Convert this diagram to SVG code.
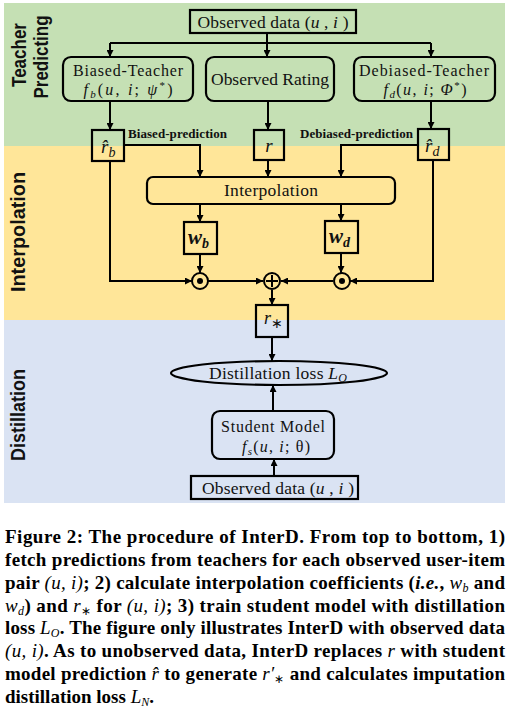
<svg xmlns="http://www.w3.org/2000/svg" width="514" height="710" viewBox="0 0 514 710">
<defs>
<marker id="ah" markerWidth="7" markerHeight="7" refX="7" refY="3.5" orient="auto" markerUnits="userSpaceOnUse">
<path d="M0,0 L7,3.5 L0,7 z" fill="#000"/>
</marker>
<style>
.box{fill:none;stroke:#000;stroke-width:2.2}
.ln{fill:none;stroke:#000;stroke-width:2}
.ar{fill:none;stroke:#000;stroke-width:2;marker-end:url(#ah)}
.t{font-family:"Liberation Serif",serif;font-size:17.5px;fill:#111}
.t2{font-family:"Liberation Serif",serif;font-size:16px;fill:#111}
.m{font-family:"Liberation Serif",serif;font-style:italic}
.side{font-family:"Liberation Sans",Arial,sans-serif;font-weight:bold;font-size:20px;fill:#111}
.lab{font-family:"Liberation Serif",serif;font-weight:bold;font-size:13px;fill:#111}
.cap{font-family:"Liberation Serif",serif;font-weight:bold;font-size:19px;fill:#000}
.ci{font-weight:normal;font-style:italic}
</style>
</defs>
<rect x="4" y="3" width="501" height="143" fill="#c5e0b4"/>
<rect x="4" y="146" width="501" height="174" fill="#ffe699"/>
<rect x="4" y="320" width="501" height="183" fill="#dae3f3"/>

<g id="side-labels">
<text class="side" transform="translate(26,55) rotate(-90)" text-anchor="middle" textLength="64" lengthAdjust="spacingAndGlyphs">Teacher</text>
<text class="side" transform="translate(48,57) rotate(-90)" text-anchor="middle" textLength="83" lengthAdjust="spacingAndGlyphs">Predicting</text>
<text class="side" transform="translate(25,232) rotate(-90)" text-anchor="middle" textLength="120" lengthAdjust="spacingAndGlyphs">Interpolation</text>
<text class="side" transform="translate(25,415) rotate(-90)" text-anchor="middle" textLength="92" lengthAdjust="spacingAndGlyphs">Distillation</text>
</g>

<g id="connectors">
<path class="ln" d="M267,33 V43 M110,43 H431"/>
<path class="ar" d="M110,43 V57"/>
<path class="ar" d="M267,43 V57"/>
<path class="ar" d="M431,43 V57"/>
<path class="ar" d="M110,101 V130"/>
<path class="ar" d="M268,101 V130"/>
<path class="ar" d="M431,101 V129"/>
<path class="ar" d="M124,145 H200 V177"/>
<path class="ar" d="M268,160 V177"/>
<path class="ar" d="M418,145 H341 V177"/>
<path class="ar" d="M200,204 V222"/>
<path class="ar" d="M341,204 V221"/>
<path class="ar" d="M200,254 V273"/>
<path class="ar" d="M341,253 V273"/>
<path class="ar" d="M110,161 V281 H192"/>
<path class="ar" d="M208,281 H263"/>
<path class="ar" d="M333,281 H281"/>
<path class="ar" d="M433,160 V281 H350"/>
<path class="ar" d="M272,290 V305"/>
<path class="ar" d="M272,337 V361"/>
<path class="ar" d="M273,411 V385"/>
<path class="ar" d="M274,476 V459"/>
</g>

<g id="observed-top">
<rect class="box" x="190" y="10" width="166" height="23"/>
<text class="t" x="273" y="28" text-anchor="middle" textLength="151" lengthAdjust="spacing">Observed  data (<tspan class="m">u</tspan> , <tspan class="m">i</tspan> )</text>
</g>
<g id="biased-teacher">
<rect class="box" x="63" y="57" width="130" height="44" rx="8"/>
<text class="t2" x="128" y="76" text-anchor="middle" textLength="110" lengthAdjust="spacing">Biased-Teacher</text>
<text class="t2" x="128" y="95" text-anchor="middle" textLength="89" lengthAdjust="spacing"><tspan class="m">f</tspan><tspan class="m" font-size="11" dy="3">b</tspan><tspan dy="-3">(</tspan><tspan class="m">u</tspan>, <tspan class="m">i</tspan>; <tspan class="m">ψ</tspan><tspan font-size="11" dy="-6">*</tspan><tspan dy="6">)</tspan></text>
</g>
<g id="observed-rating">
<rect class="box" x="206" y="57" width="128" height="44" rx="8"/>
<text class="t" x="270" y="85" text-anchor="middle" textLength="118" lengthAdjust="spacing">Observed Rating</text>
</g>
<g id="debiased-teacher">
<rect class="box" x="354" y="57" width="141" height="44" rx="8"/>
<text class="t2" x="424" y="76" text-anchor="middle" textLength="130" lengthAdjust="spacing">Debiased-Teacher</text>
<text class="t2" x="425" y="95" text-anchor="middle" textLength="83" lengthAdjust="spacing"><tspan class="m">f</tspan><tspan class="m" font-size="11" dy="3">d</tspan><tspan dy="-3">(</tspan><tspan class="m">u</tspan>, <tspan class="m">i</tspan>; <tspan class="m">Φ</tspan><tspan font-size="11" dy="-6">*</tspan><tspan dy="6">)</tspan></text>
</g>

<g id="rb">
<rect class="box" x="92" y="130" width="32" height="31"/>
<text class="m" x="101" y="153" font-size="19" fill="#111">r̂<tspan font-size="14" dy="4">b</tspan></text>
</g>
<g id="r">
<rect class="box" x="254" y="130" width="30" height="30"/>
<text class="m" x="269" y="152" text-anchor="middle" font-size="19" fill="#111">r</text>
</g>
<g id="rd">
<rect class="box" x="418" y="129" width="31" height="31"/>
<text class="m" x="425" y="152" font-size="19" fill="#111">r̂<tspan font-size="14" dy="4">d</tspan></text>
</g>
<g id="edge-labels">
<text class="lab" x="128" y="138" textLength="99" lengthAdjust="spacing">Biased-prediction</text>
<text class="lab" x="300" y="138" textLength="113" lengthAdjust="spacing">Debiased-prediction</text>
</g>

<g id="interpolation">
<rect class="box" x="147" y="177" width="248" height="27" rx="6"/>
<text class="t" x="271" y="196" text-anchor="middle" textLength="94" lengthAdjust="spacing">Interpolation</text>
</g>
<g id="wb">
<rect class="box" x="184" y="222" width="33" height="32"/>
<text class="m" x="188" y="244" font-size="21" font-weight="bold" fill="#111">w<tspan font-size="14" dy="4">b</tspan></text>
</g>
<g id="wd">
<rect class="box" x="325" y="221" width="33" height="32"/>
<text class="m" x="329" y="243" font-size="21" font-weight="bold" fill="#111">w<tspan font-size="14" dy="4">d</tspan></text>
</g>
<g id="odot-b">
<circle cx="200" cy="281" r="8" fill="none" stroke="#000" stroke-width="2"/>
<circle cx="200" cy="281" r="3" fill="#000"/>
</g>
<g id="oplus">
<circle cx="272" cy="281" r="8" fill="none" stroke="#000" stroke-width="2"/>
<path d="M266,281 H278 M272,275 V287" stroke="#000" stroke-width="2"/>
</g>
<g id="odot-d">
<circle cx="342" cy="281" r="8" fill="none" stroke="#000" stroke-width="2"/>
<circle cx="342" cy="281" r="3" fill="#000"/>
</g>
<g id="rstar">
<rect class="box" x="256" y="305" width="32" height="32"/>
<text class="m" x="264" y="324" font-size="18" fill="#111">r<tspan font-size="14" font-style="normal" dy="4">∗</tspan></text>
</g>
<g id="distillation-loss">
<ellipse cx="279" cy="373" rx="108" ry="12" fill="none" stroke="#000" stroke-width="2.2"/>
<text class="t" x="209" y="379" textLength="138" lengthAdjust="spacing">Distillation loss <tspan class="m">L</tspan><tspan class="m" font-size="12" dy="3">O</tspan></text>
</g>
<g id="student">
<rect class="box" x="212" y="411" width="122" height="48" rx="8"/>
<text class="t2" x="273" y="432" text-anchor="middle" textLength="104" lengthAdjust="spacing">Student Model</text>
<text class="t2" x="276" y="452" text-anchor="middle" textLength="68" lengthAdjust="spacing"><tspan class="m">f</tspan><tspan class="m" font-size="11" dy="3">s</tspan><tspan dy="-3">(</tspan><tspan class="m">u</tspan>, <tspan class="m">i</tspan>; θ)</text>
</g>
<g id="observed-bottom">
<rect class="box" x="191" y="476" width="167" height="23"/>
<text class="t" x="278" y="494" text-anchor="middle" textLength="152" lengthAdjust="spacing">Observed  data (<tspan class="m">u</tspan> , <tspan class="m">i</tspan> )</text>
</g>

<g id="caption">
<text class="cap" x="5" y="543" textLength="500" lengthAdjust="spacing">Figure 2: The procedure of InterD. From top to bottom, 1)</text>
<text class="cap" x="5" y="566" textLength="500" lengthAdjust="spacing">fetch predictions from teachers for each observed user-item</text>
<text class="cap" x="5" y="589" textLength="500" lengthAdjust="spacing">pair <tspan class="ci">(u, i)</tspan>; 2) calculate interpolation coefficients (<tspan font-style="italic">i.e.</tspan>, <tspan class="ci">w</tspan><tspan class="ci" font-size="12" dy="3">b</tspan><tspan dy="-3"> and</tspan></text>
<text class="cap" x="5" y="612" textLength="500" lengthAdjust="spacing"><tspan class="ci">w</tspan><tspan class="ci" font-size="12" dy="3">d</tspan><tspan dy="-3">) and </tspan><tspan class="ci">r</tspan><tspan font-weight="normal" font-size="12" dy="3">∗</tspan><tspan dy="-3"> for </tspan><tspan class="ci">(u, i)</tspan>; 3) train student model with distillation</text>
<text class="cap" x="5" y="634" textLength="500" lengthAdjust="spacing">loss <tspan class="ci">L</tspan><tspan class="ci" font-size="12" dy="3">O</tspan><tspan dy="-3">. The figure only illustrates InterD with observed data</tspan></text>
<text class="cap" x="5" y="657" textLength="500" lengthAdjust="spacing"><tspan class="ci">(u, i)</tspan>. As to unobserved data, InterD replaces <tspan class="ci">r</tspan> with student</text>
<text class="cap" x="5" y="680" textLength="500" lengthAdjust="spacing">model prediction <tspan class="ci">r̂</tspan> to generate <tspan class="ci">r′</tspan><tspan font-weight="normal" font-size="12" dy="3">∗</tspan><tspan dy="-3"> and calculates imputation</tspan></text>
<text class="cap" x="5" y="703">distillation loss <tspan class="ci">L</tspan><tspan class="ci" font-size="12" dy="3">N</tspan><tspan dy="-3">.</tspan></text>
</g>
</svg>
